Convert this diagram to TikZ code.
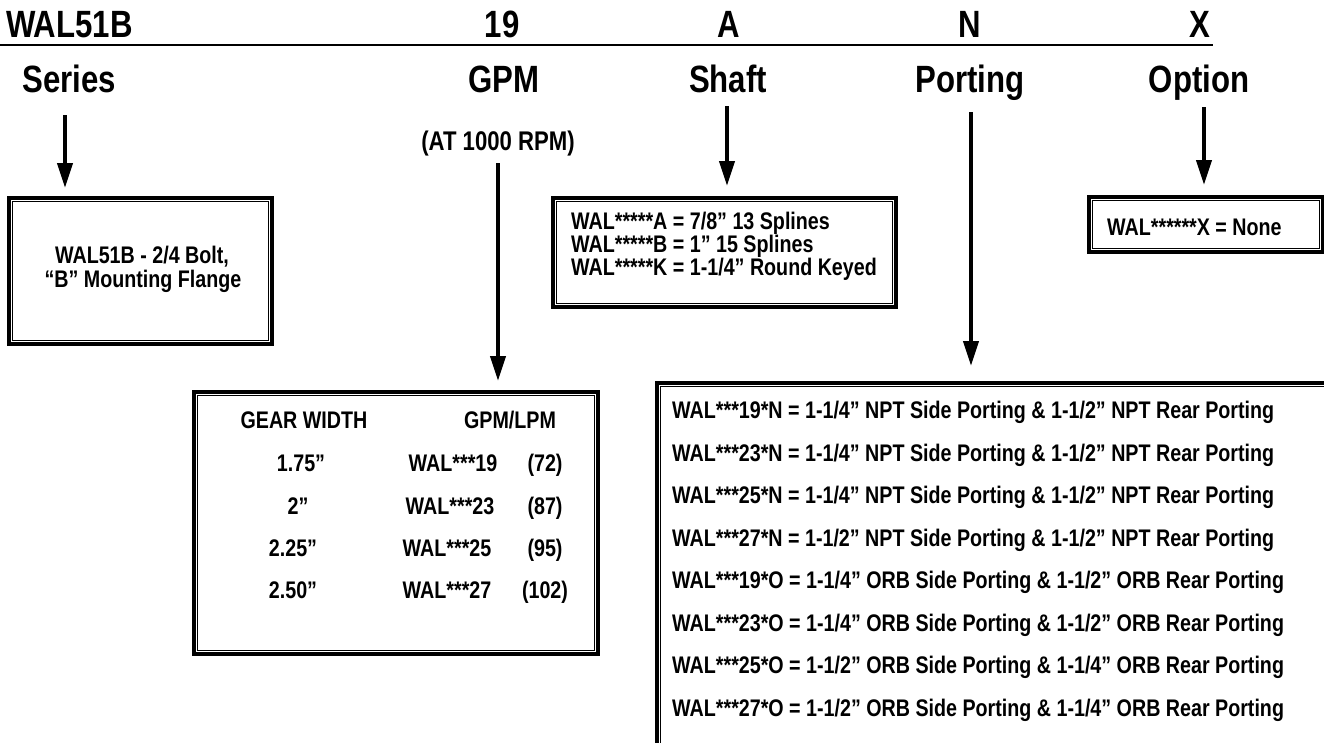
\documentclass[tikz,border=0pt]{standalone}
\usepackage{fontspec}
\setmainfont{Liberation Sans}[FakeStretch=0.82]
\usetikzlibrary{arrows.meta}
\begin{document}
\begin{tikzpicture}[x=1pt,y=-1pt,
  every node/.style={font=\bfseries, inner sep=0pt},
  hdr/.style={font=\fontsize{38}{40}\selectfont\bfseries, anchor=base},
  lbl/.style={font=\fontsize{38}{40}\selectfont\bfseries, anchor=base},
  outerbox/.style={draw, line width=4pt, anchor=north west},
  arr/.style={line width=4pt, -{Triangle[length=25pt,width=15pt]}},
  boxtxt/.style={font=\fontsize{24}{24}\selectfont\bfseries, anchor=base},
  shtxt/.style={font=\fontsize{24}{24}\selectfont\bfseries, anchor=base west},
  tbl/.style={font=\fontsize{24}{24}\selectfont\bfseries, anchor=base},
  port/.style={font=\fontsize{24}{24}\selectfont\bfseries, anchor=base west}]
\useasboundingbox (0,0) rectangle (1324,742);
% header
\node[hdr, anchor=base west] (h1) at (6,37) {WAL51B};
\node[hdr] (h2) at (502,37) {19};
\node[hdr] (h3) at (729,37) {A};
\node[hdr] (h4) at (970,37) {N};
\node[hdr] (h5) at (1200,37) {X};
\coordinate (ul1) at (0,45);
\coordinate (ul2) at (1213,45);
\draw[line width=2.5pt] (ul1) -- (ul2);
% labels
\node[lbl] (l1) at (69,92) {Series};
\node[lbl] (l2) at (504,92) {GPM};
\node[lbl] (l3) at (728,92) {Shaft};
\node[lbl] (l4) at (970,92) {Porting};
\node[lbl] (l5) at (1199,92) {Option};
\node[font=\fontsize{27}{30}\selectfont\bfseries, anchor=base] (rpm) at (498,150) {(AT 1000 RPM)};
% boxes
\node[outerbox, minimum width=263pt, minimum height=146pt] (b1) at (7,196) {};
\node[outerbox, minimum width=343pt, minimum height=109pt] (b3) at (551,196) {};
\node[outerbox, minimum width=234pt, minimum height=55pt] (b5) at (1087,195) {};
\node[outerbox, minimum width=404pt, minimum height=262pt] (b2) at (192,390) {};
\node[outerbox, minimum width=680pt, minimum height=366pt] (b4) at (655,381) {};
\foreach \b in {b1,b2,b3,b4,b5}{
  \draw[line width=1pt] ([shift={(5.5,5.5)}]\b.north west) rectangle ([shift={(-5.5,-5.5)}]\b.south east);
}
% arrows
\coordinate (a1) at (65,115);
\coordinate (a2) at (498,163);
\coordinate (a3) at (727,106);
\coordinate (a4) at (971,112);
\coordinate (a5) at (1204,107);
\draw[arr, shorten >=8pt] (a1) -- (a1 |- b1.north);
\draw[arr, shorten >=9pt] (a2) -- (a2 |- b2.north);
\draw[arr, shorten >=10pt] (a3) -- (a3 |- b3.north);
\draw[arr, shorten >=15pt] (a4) -- (a4 |- b4.north);
\draw[arr, shorten >=10pt] (a5) -- (a5 |- b5.north);
% series text
\node[boxtxt] (t1a) at (142,263) {WAL51B - 2/4 Bolt,};
\node[boxtxt] (t1b) at (143,287) {“B” Mounting Flange};
% shaft text
\node[shtxt] (t3a) at (571,229) {WAL*****A = 7/8” 13 Splines};
\node[shtxt] (t3b) at (571,252) {WAL*****B = 1” 15 Splines};
\node[shtxt] (t3c) at (571,275) {WAL*****K = 1-1/4” Round Keyed};
% option text
\node[boxtxt, anchor=base west] (t5) at (1107,235) {WAL******X = None};
% gpm table
\node[tbl] (g0a) at (304,428) {GEAR WIDTH};
\node[tbl] (g0b) at (510,428) {GPM/LPM};
\node[tbl] (g1a) at (301,471) {1.75”};
\node[tbl] (g1b) at (453,471) {WAL***19};
\node[tbl] (g1c) at (545,471) {(72)};
\node[tbl] (g2a) at (298,514) {2”};
\node[tbl] (g2b) at (450,514) {WAL***23};
\node[tbl] (g2c) at (545,514) {(87)};
\node[tbl] (g3a) at (293,556) {2.25”};
\node[tbl] (g3b) at (447,556) {WAL***25};
\node[tbl] (g3c) at (545,556) {(95)};
\node[tbl] (g4a) at (293,598) {2.50”};
\node[tbl] (g4b) at (447,598) {WAL***27};
\node[tbl] (g4c) at (545,598) {(102)};
% porting list
\node[port] (p1) at (672,418) {WAL***19*N = 1-1/4” NPT Side Porting \& 1-1/2” NPT Rear Porting};
\node[port] (p2) at (672,461) {WAL***23*N = 1-1/4” NPT Side Porting \& 1-1/2” NPT Rear Porting};
\node[port] (p3) at (672,503) {WAL***25*N = 1-1/4” NPT Side Porting \& 1-1/2” NPT Rear Porting};
\node[port] (p4) at (672,546) {WAL***27*N = 1-1/2” NPT Side Porting \& 1-1/2” NPT Rear Porting};
\node[port] (p5) at (672,588) {WAL***19*O = 1-1/4” ORB Side Porting \& 1-1/2” ORB Rear Porting};
\node[port] (p6) at (672,631) {WAL***23*O = 1-1/4” ORB Side Porting \& 1-1/2” ORB Rear Porting};
\node[port] (p7) at (672,673) {WAL***25*O = 1-1/2” ORB Side Porting \& 1-1/4” ORB Rear Porting};
\node[port] (p8) at (672,716) {WAL***27*O = 1-1/2” ORB Side Porting \& 1-1/4” ORB Rear Porting};
\end{tikzpicture}
\end{document}
